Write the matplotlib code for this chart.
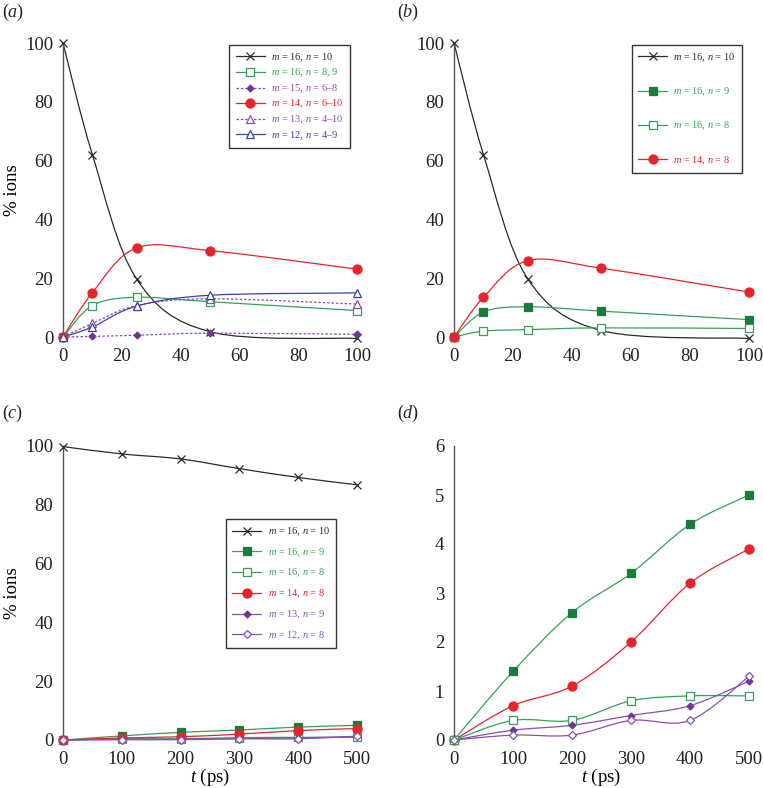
import numpy as np
import matplotlib
matplotlib.use("Agg")
import matplotlib.pyplot as plt
from matplotlib.path import Path
from matplotlib.patches import PathPatch
from matplotlib.lines import Line2D

plt.rcParams['font.family'] = ['Liberation Serif', 'DejaVu Serif']
plt.rcParams['mathtext.fontset'] = 'custom'
plt.rcParams['mathtext.rm'] = 'Liberation Serif'
plt.rcParams['mathtext.it'] = 'Liberation Serif:italic'

# ---------------- data ----------------
t_short = [0, 10, 25, 50, 100]
t_long = [0, 100, 200, 300, 400, 500]

a_labels = ["$m$ = 16, $n$ = 10", "$m$ = 16, $n$ = 8, 9", "$m$ = 15, $n$ = 6–8",
            "$m$ = 14, $n$ = 6–10", "$m$ = 13, $n$ = 4–10", "$m$ = 12, $n$ = 4–9"]
a_m16n10 = [100, 62, 19.8, 1.8, -0.5]
a_m16n89 = [0, 10.7, 13.5, 12.0, 9.0]
a_m15 = [0, 0.2, 0.6, 1.3, 0.9]
a_m14 = [0, 15.1, 30.3, 29.4, 23.1]
a_m13 = [0, 4.6, 10.7, 13.0, 11.2]
a_m12 = [0, 3.4, 10.5, 14.2, 15.0]

b_labels = ["$m$ = 16, $n$ = 10", "$m$ = 16, $n$ = 9", "$m$ = 16, $n$ = 8", "$m$ = 14, $n$ = 8"]
b_m16n10 = [100, 62, 19.8, 2.2, -0.5]
b_m16n9 = [0, 8.5, 10.3, 8.8, 5.9]
b_m16n8 = [0, 2.0, 2.5, 3.1, 2.9]
b_m14n8 = [0, 13.5, 26.0, 23.4, 15.3]

c_labels = ["$m$ = 16, $n$ = 10", "$m$ = 16, $n$ = 9", "$m$ = 16, $n$ = 8",
            "$m$ = 14, $n$ = 8", "$m$ = 13, $n$ = 9", "$m$ = 12, $n$ = 8"]
c_m16n10 = [99.8, 97.3, 95.6, 92.3, 89.3, 86.8]
d_m16n9 = [0, 1.4, 2.6, 3.4, 4.4, 5.0]
d_m16n8 = [0, 0.4, 0.4, 0.8, 0.9, 0.9]
d_m14n8 = [0, 0.7, 1.1, 2.0, 3.2, 3.9]
d_m13n9 = [0, 0.2, 0.3, 0.5, 0.7, 1.2]
d_m12n8 = [0, 0.1, 0.1, 0.4, 0.4, 1.3]

# ---------------- styles ----------------
BLACK = '#2a2a2a'
GREEN = '#36a05a'
DGREEN = '#177c3c'
RED = '#e8232b'
PURPLE = '#8a4fb0'
DPURPLE = '#6e3596'
BLUE = '#3d42a8'


def smooth(ax, x, y, color, ls='-', lw=0.9):
    pts = np.column_stack([np.asarray(x, float), np.asarray(y, float)])
    n = len(pts)
    verts = [pts[0]]
    codes = [Path.MOVETO]
    for i in range(n - 1):
        p0 = pts[i - 1] if i > 0 else pts[i]
        p1 = pts[i]
        p2 = pts[i + 1]
        p3 = pts[i + 2] if i + 2 < n else pts[i + 1]
        verts += [p1 + (p2 - p0) / 6, p2 - (p3 - p1) / 6, p2]
        codes += [Path.CURVE4] * 3
    patch = PathPatch(Path(verts, codes), fill=False, edgecolor=color, lw=lw,
                      linestyle=ls, transform=ax.transData, clip_on=False, zorder=2)
    ax.add_patch(patch)


def series(ax, x, y, color, marker, ms, mfc, mec=None, ls='-', lcolor=None, mew=0.9):
    smooth(ax, x, y, lcolor or color, ls=ls)
    ax.plot(x, y, linestyle='none', marker=marker, ms=ms, mfc=mfc,
            mec=mec or color, mew=mew, clip_on=False, zorder=3)
    return Line2D([], [], color=lcolor or color, ls=ls, lw=0.9, marker=marker, ms=ms,
                  mfc=mfc, mec=mec or color, mew=mew)


def style(ax, xlim, ylim, xticks, yticks):
    ax.set_xlim(*xlim)
    ax.set_ylim(*ylim)
    ax.set_xticks(xticks)
    ax.set_yticks(yticks)
    for s in ['top', 'right', 'bottom']:
        ax.spines[s].set_visible(False)
    ax.spines['left'].set_color('#555555')
    ax.spines['left'].set_linewidth(1.0)
    ax.tick_params(length=0, labelsize=13.5, colors='#222222')
    ax.tick_params(axis='x', pad=8)
    ax.tick_params(axis='y', pad=7)


def legend(ax, handles, labels, colors, anchor, spacing, hl):
    leg = ax.legend(handles, labels, loc='upper right', bbox_to_anchor=anchor,
                    fontsize=7.5, labelspacing=spacing, handlelength=hl,
                    fancybox=False, framealpha=1, edgecolor='#333333',
                    borderpad=0.6, handletextpad=0.6, borderaxespad=0)
    leg.get_frame().set_linewidth(1.0)
    for txt, c in zip(leg.get_texts(), colors):
        txt.set_color(c)
    return leg


fig = plt.figure(figsize=(7.63, 7.88), dpi=100)
W, H = 763, 788


def axes_px(l, r, top, bottom):
    return fig.add_axes([l / W, 1 - bottom / H, (r - l) / W, (bottom - top) / H])


axa = axes_px(63, 357, 43, 337)
axb = axes_px(454, 749, 43, 337)
axc = axes_px(63, 357, 446, 740)
axd = axes_px(454, 749, 446, 740)

# (a)
h = []
h.append(series(axa, t_short, a_m16n10, BLACK, 'x', 6, 'none'))
h.append(series(axa, t_short, a_m16n89, GREEN, 's', 5.5, 'white'))
h.append(series(axa, t_short, a_m15, DPURPLE, 'D', 3.5, DPURPLE, ls=(0, (2, 1.5)), lcolor=PURPLE))
h.append(series(axa, t_short, a_m14, RED, 'o', 6.5, RED))
h.append(series(axa, t_short, a_m13, PURPLE, '^', 5.5, 'white', ls=(0, (2, 1.5))))
h.append(series(axa, t_short, a_m12, BLUE, '^', 5.5, 'white'))
style(axa, (0, 100), (0, 100), [0, 20, 40, 60, 80, 100], [0, 20, 40, 60, 80, 100])
axa.set_ylabel('% ions', fontsize=13.5, labelpad=3)
legend(axa, h, a_labels, [BLACK, GREEN, PURPLE, RED, PURPLE, BLUE], (0.976, 0.993), 0.3, 2.8)

# (b)
h = []
h.append(series(axb, t_short, b_m16n10, BLACK, 'x', 6, 'none'))
h.append(series(axb, t_short, b_m16n9, GREEN, 's', 5.5, DGREEN, mec=DGREEN))
h.append(series(axb, t_short, b_m16n8, GREEN, 's', 5.5, 'white'))
h.append(series(axb, t_short, b_m14n8, RED, 'o', 6.5, RED))
style(axb, (0, 100), (0, 100), [0, 20, 40, 60, 80, 100], [0, 20, 40, 60, 80, 100])
legend(axb, h, b_labels, [BLACK, GREEN, GREEN, RED], (0.976, 0.993), 2.1, 2.8)

# (c)
h = []
h.append(series(axc, t_long, c_m16n10, BLACK, 'x', 6, 'none'))
h.append(series(axc, t_long, d_m16n9, GREEN, 's', 5.5, DGREEN, mec=DGREEN))
h.append(series(axc, t_long, d_m16n8, GREEN, 's', 5.5, 'white'))
h.append(series(axc, t_long, d_m14n8, RED, 'o', 6.5, RED))
h.append(series(axc, t_long, d_m13n9, DPURPLE, 'D', 3.5, DPURPLE, lcolor=PURPLE))
h.append(series(axc, t_long, d_m12n8, PURPLE, 'D', 4, 'white'))
style(axc, (0, 500), (0, 100), [0, 100, 200, 300, 400, 500], [0, 20, 40, 60, 80, 100])
axc.set_ylabel('% ions', fontsize=13.5, labelpad=3)
axc.set_xlabel('$t$ (ps)', fontsize=13.5, labelpad=-1)
legend(axc, h, c_labels, [BLACK, GREEN, GREEN, RED, PURPLE, PURPLE], (0.929, 0.751), 0.8, 2.8)

# (d)
series(axd, t_long, d_m16n9, GREEN, 's', 5.5, DGREEN, mec=DGREEN)
series(axd, t_long, d_m14n8, RED, 'o', 6.5, RED)
series(axd, t_long, d_m16n8, GREEN, 's', 5.5, 'white')
series(axd, t_long, d_m13n9, DPURPLE, 'D', 3.5, DPURPLE, lcolor=PURPLE)
series(axd, t_long, d_m12n8, PURPLE, 'D', 4, 'white')
style(axd, (0, 500), (0, 6), [0, 100, 200, 300, 400, 500], [0, 1, 2, 3, 4, 5, 6])
axd.set_xlabel('$t$ (ps)', fontsize=13.5, labelpad=-1)

# panel labels
for lab, x, y in [('($a$)', 2, 12), ('($b$)', 397, 12), ('($c$)', 2, 413), ('($d$)', 397, 413)]:
    fig.text(x / W, 1 - y / H, lab, fontsize=13, va='center', ha='left', color='#222222')

fig.savefig('out.png', dpi=100)
